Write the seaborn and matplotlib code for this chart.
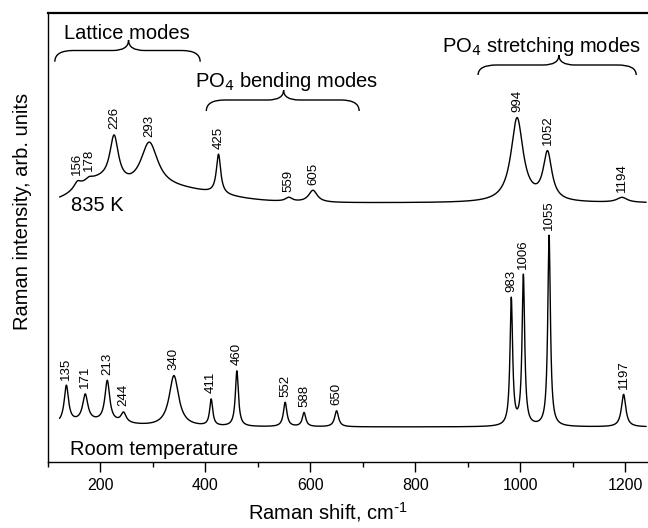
import numpy as np
import pandas as pd
import matplotlib
matplotlib.use("Agg")
import matplotlib.pyplot as plt
import seaborn as sns
from matplotlib.path import Path
from matplotlib.patches import PathPatch

# ---------------- data ----------------
# Room-temperature spectrum: peak positions (cm-1), heights, half widths
rt_pos = [135, 171, 213, 244, 340, 411, 460, 552, 588, 650, 983, 1006, 1055, 1197]
rt_amp = [37, 26.5, 41, 10, 51, 26.5, 55.5, 24.3, 14, 16, 127, 150, 191, 32.5]
rt_hw = [5, 6, 5.5, 6, 11, 3.5, 3.5, 4, 4, 4.5, 3, 3, 3, 5]
rt_base = 101
rt_bg_center = [180]
rt_bg_amp = [5]
rt_bg_width = [60]

# 835 K spectrum
ht_pos = [156, 178, 226, 293, 425, 559, 605, 994, 1052, 1194]
ht_amp = [6.5, 3, 46, 46, 39.5, 4, 12, 84, 47.7, 5]
ht_hw = [8, 8, 10, 20, 5, 8, 10, 14, 10, 12]
ht_base = 325
ht_bg_center = [190, 320]
ht_bg_amp = [15, 14]
ht_bg_width = [36, 100]

shift = np.arange(122, 1240.5, 0.5)


def spectrum(x, base, pos, amp, hw, bgc, bga, bgw):
    x = np.asarray(x, dtype=float)
    y = np.full_like(x, base, dtype=float)
    for p, a, w in zip(pos, amp, hw):
        y += a / (1 + ((x - p) / w) ** 2)
    for c, a, s in zip(bgc, bga, bgw):
        y += a * np.exp(-(x - c) ** 2 / (2 * s * s))
    return y


rt_args = (rt_base, rt_pos, rt_amp, rt_hw, rt_bg_center, rt_bg_amp, rt_bg_width)
ht_args = (ht_base, ht_pos, ht_amp, ht_hw, ht_bg_center, ht_bg_amp, ht_bg_width)

df = pd.concat([
    pd.DataFrame({"shift": shift, "intensity": spectrum(shift, *rt_args), "spectrum": "Room temperature"}),
    pd.DataFrame({"shift": shift, "intensity": spectrum(shift, *ht_args), "spectrum": "835 K"}),
])

# ---------------- plotting ----------------
sns.set_theme(style="white")
plt.rcParams["font.family"] = ["Liberation Sans", "DejaVu Sans"]
plt.rcParams["mathtext.default"] = "regular"
plt.rcParams["text.color"] = "black"
plt.rcParams["axes.labelcolor"] = "black"
plt.rcParams["xtick.color"] = "black"
plt.rcParams["axes.edgecolor"] = "black"

fig = plt.figure(figsize=(6.48, 5.28), dpi=100)
ax = fig.add_axes([48 / 648, 66.3 / 528, 600 / 648, 449 / 528])

sns.lineplot(data=df, x="shift", y="intensity", units="spectrum", estimator=None,
             color="black", lw=1.0, ax=ax)

ax.set_xlim(109.3, 1243.5)
ax.set_ylim(66.3, 515.3)
ax.set_xticks(range(200, 1201, 200))
ax.set_xticks(range(100, 1300, 200), minor=True)
ax.set_yticks([])
ax.tick_params(axis="x", which="major", direction="out", length=7, width=1.0,
               labelsize=11.5, bottom=True, pad=5)
ax.tick_params(axis="x", which="minor", direction="out", length=3.5, width=1.0, bottom=True)
ax.spines["right"].set_visible(False)
ax.spines["top"].set_linewidth(1.6)
ax.spines["left"].set_linewidth(1.0)
ax.spines["bottom"].set_linewidth(1.0)

ax.set_xlabel(r"Raman shift, cm$^{\text{-}1}$", fontsize=14.5)
ax.set_ylabel("Raman intensity, arb. units", fontsize=14.5)
ax.xaxis.set_label_coords(0.467, -0.085)
ax.yaxis.set_label_coords(-0.027, 0.557)

# peak labels
for pos, args in ((rt_pos, rt_args), (ht_pos, ht_args)):
    for p in pos:
        yv = float(spectrum([p], *args)[0])
        ax.annotate(str(p), xy=(p, yv), xytext=(0, 4), textcoords="offset points",
                    rotation=90, ha="center", va="bottom", fontsize=9.5)

# spectrum names
ax.text(141.4, 73, "Room temperature", fontsize=14.5, va="baseline")
ax.text(144.5, 317, "835 K", fontsize=14.5, va="baseline")

# group annotations with braces
def brace(x0, x1, xm, ye, yh, yt, re=35, rm=30):
    verts = [(x0, ye), (x0, yh), (x0 + re, yh), (xm - rm, yh), (xm, yh), (xm, yt),
             (xm, yh), (xm + rm, yh), (x1 - re, yh), (x1, yh), (x1, ye)]
    codes = [Path.MOVETO, Path.CURVE3, Path.CURVE3, Path.LINETO, Path.CURVE3, Path.CURVE3,
             Path.CURVE3, Path.CURVE3, Path.LINETO, Path.CURVE3, Path.CURVE3]
    ax.add_patch(PathPatch(Path(verts, codes), fill=False, lw=1.0, ec="black"))

brace(113, 390, 253.5, 466.3, 477.5, 488)
ax.text(251, 488.7, "Lattice modes", fontsize=14.5, ha="center", va="baseline")

brace(401.7, 693, 549, 417, 428, 438)
ax.text(381, 440.7, r"PO$_{\mathsf{4}}$ bending modes", fontsize=14.5, ha="left", va="baseline")

brace(919.7, 1221, 1073.7, 453, 463, 473)
ax.text(850, 476.3, r"PO$_{\mathsf{4}}$ stretching modes", fontsize=14.5, ha="left", va="baseline")

fig.savefig("out.png", dpi=100)
